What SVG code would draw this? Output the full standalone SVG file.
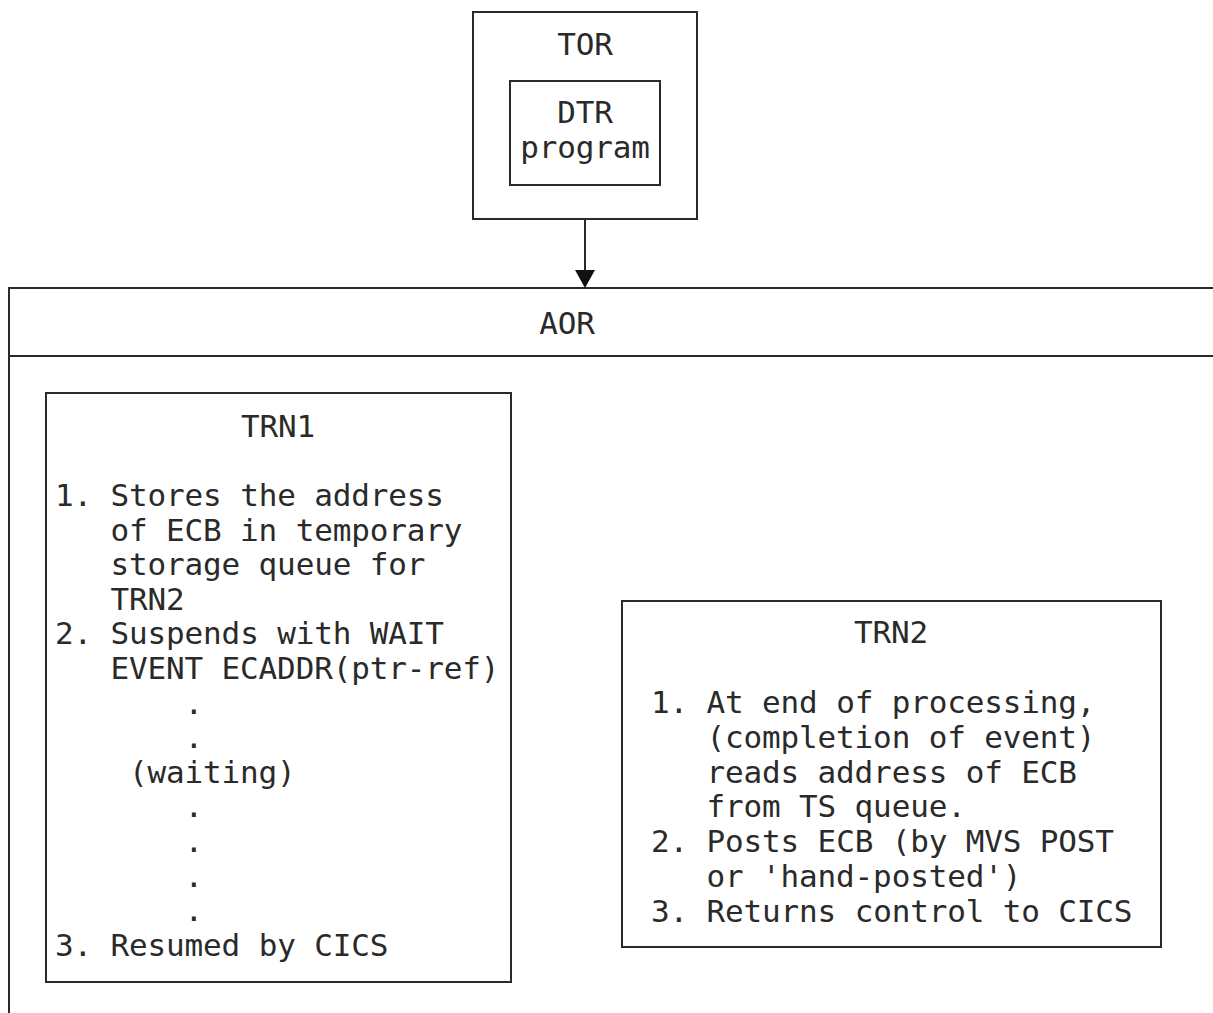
<svg xmlns="http://www.w3.org/2000/svg" width="1213" height="1013" viewBox="0 0 1213 1013">
<style>
.box{fill:none;stroke:#2a2a2a;stroke-width:2}
text{font-family:"DejaVu Sans Mono","Liberation Mono",monospace;font-size:31px;letter-spacing:-0.15px;fill:#2a2a2a}
.c{text-anchor:middle}
</style>
<rect width="1213" height="1013" fill="#fff"/>
<g id="tor">
<rect class="box" x="473" y="12" width="224" height="207"/>
<text class="c" x="585" y="55">TOR</text>
</g>
<g id="dtr">
<rect class="box" x="510" y="81" width="150" height="104"/>
<text class="c" x="585" y="123">DTR</text>
<text class="c" x="585" y="158">program</text>
</g>
<g id="aor">
<path class="box" d="M1215,288 H9 V1015 M9,356 H1215"/>
<text class="c" x="567" y="334">AOR</text>
</g>
<g id="trn1">
<rect class="box" x="46" y="393" width="465" height="589"/>
<text class="c" x="278" y="437">TRN1</text>
<text x="55" y="506">1. Stores the address</text>
<text x="110.5" y="540.6">of ECB in temporary</text>
<text x="110.5" y="575.2">storage queue for</text>
<text x="110.5" y="609.8">TRN2</text>
<text x="55" y="644.4">2. Suspends with WAIT</text>
<text x="110.5" y="679">EVENT ECADDR(ptr-ref)</text>
<text x="184.5" y="713.6">.</text>
<text x="184.5" y="748.2">.</text>
<text x="129" y="782.8">(waiting)</text>
<text x="184.5" y="817.4">.</text>
<text x="184.5" y="852">.</text>
<text x="184.5" y="886.6">.</text>
<text x="184.5" y="921.2">.</text>
<text x="55" y="955.8">3. Resumed by CICS</text>
</g>
<g id="trn2">
<rect class="box" x="622" y="601" width="539" height="346"/>
<text class="c" x="891" y="643">TRN2</text>
<text x="651" y="713">1. At end of processing,</text>
<text x="706.5" y="747.8">(completion of event)</text>
<text x="706.5" y="782.6">reads address of ECB</text>
<text x="706.5" y="817.4">from TS queue.</text>
<text x="651" y="852.2">2. Posts ECB (by MVS POST</text>
<text x="706.5" y="887">or 'hand-posted')</text>
<text x="651" y="921.8">3. Returns control to CICS</text>
</g>
<g id="connectors">
<line x1="585" y1="219" x2="585" y2="271" stroke="#2a2a2a" stroke-width="2"/>
<polygon points="575,270 595,270 585,288" fill="#111"/>
</g>
</svg>
